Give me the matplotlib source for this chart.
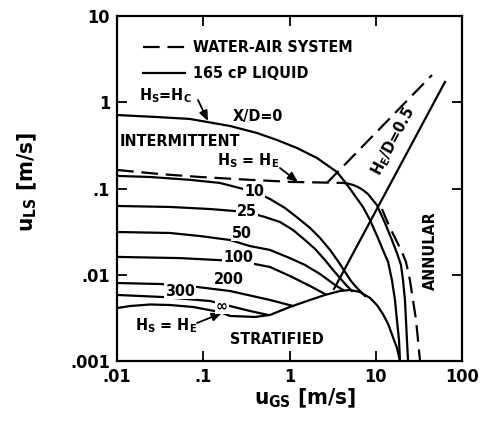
import matplotlib
matplotlib.use("Agg")
import matplotlib.pyplot as plt

# ---- data (u_GS, u_LS in m/s) ----
# 165 cP liquid, X/D = 0  (Hs = Hc)
xd0_ugs = [0.01, 0.0291, 0.0702, 0.204, 0.42, 0.716, 1.22, 2.08, 3.56, 4.40, 5.45,
           6.22, 7.11, 8.58, 10.6, 12.1, 13.9, 15.4, 16.7, 17.6, 18.6, 19.1]
xd0_uls = [0.711, 0.674, 0.640, 0.531, 0.44, 0.365, 0.295, 0.226, 0.155, 0.119,
           0.0887, 0.0736, 0.0611, 0.0431, 0.0267, 0.0194, 0.0141, 0.00869, 0.0051,
           0.003, 0.00175, 0.001]

# 165 cP liquid, finite X/D
xd10_ugs = [0.01, 0.0241, 0.0702, 0.156, 0.398, 0.594, 0.887, 1.25, 1.73, 2.26,
            2.95, 3.65, 4.40, 5.16, 6.06, 7.50]
xd10_uls = [0.140, 0.136, 0.126, 0.116, 0.0911, 0.0755, 0.0594, 0.0455, 0.0349,
            0.0267, 0.0194, 0.0144, 0.0108, 0.00847, 0.00702, 0.00567]
xd25_ugs = [0.01, 0.0411, 0.120, 0.321, 0.520, 0.776, 1.10, 1.51, 1.98, 2.58, 3.19,
            3.85, 4.52, 5.30]
xd25_uls = [0.0627, 0.0611, 0.0578, 0.0534, 0.0467, 0.0409, 0.0330, 0.0253, 0.0199,
            0.0148, 0.0114, 0.00917, 0.00761, 0.00648]
xd50_ugs = [0.01, 0.0411, 0.0917, 0.204, 0.348, 0.594, 1.01, 1.51, 2.26, 3.37, 4.17]
xd50_uls = [0.0313, 0.0305, 0.0281, 0.0253, 0.0215, 0.0194, 0.0156, 0.0130, 0.0102,
            0.00761, 0.00666]
xd100_ugs = [0.01, 0.0537, 0.253, 0.398, 0.594, 1.01, 1.73, 2.58]
xd100_uls = [0.0161, 0.0156, 0.0144, 0.0133, 0.0123, 0.00968, 0.00741, 0.00598]
xd200_ugs = [0.01, 0.0316, 0.0847, 0.204, 0.594, 1.10]
xd200_uls = [0.00802, 0.00781, 0.00722, 0.00648, 0.0051, 0.00434]
xd300_ugs = [0.01, 0.0341, 0.120, 0.204, 0.348, 0.564]
xd300_uls = [0.00583, 0.00552, 0.00496, 0.00434, 0.0038, 0.00342]

# lowest curve: X/D = inf (Hs = He) and stratified boundary
inf_ugs = [0.01, 0.0142, 0.0241, 0.0411, 0.0761, 0.156, 0.204, 0.398, 0.594, 1.01,
           1.73, 2.58, 3.85, 5.02, 6.57, 8.58, 10.3, 12.1, 13.9, 15.8, 17.6, 19.1]
inf_uls = [0.00411, 0.00434, 0.00452, 0.00446, 0.00423, 0.0037, 0.00333, 0.00324,
           0.00342, 0.00423, 0.0051, 0.00583, 0.00648, 0.00666, 0.00631, 0.00538,
           0.00446, 0.00351, 0.00269, 0.0019, 0.00142, 0.001]

# second solid branch leaving the water-air Hs = He line
arc_ugs = [4.17, 4.76, 5.45, 6.22, 7.11, 8.13, 9.05, 10.3, 11.2, 12.8, 15.4, 17.6,
           19.6, 20.7, 21.8, 22.4, 23.0, 23.7]
arc_uls = [0.116, 0.114, 0.110, 0.104, 0.0961, 0.0863, 0.0755, 0.0644, 0.0534,
           0.0398, 0.0253, 0.0179, 0.0130, 0.00869, 0.0051, 0.003, 0.00175, 0.001]

# water-air system (dashed)
wa_he_ugs = [0.01, 0.0316, 0.0917, 0.348, 1.10, 4.40]
wa_he_uls = [0.164, 0.147, 0.136, 0.126, 0.119, 0.116]
wa_arc_ugs = [11.8, 14.3, 17.2, 20.1, 22.4, 24.9, 27.0, 29.3, 30.9, 32.6]
wa_arc_uls = [0.0578, 0.0367, 0.0253, 0.0184, 0.0141, 0.00869, 0.0051, 0.003,
              0.00175, 0.001]

# He/D = 0.5 lines
wa_hed_ugs = [2.72, 44.9]
wa_hed_uls = [0.116, 2.07]
liq_hed_ugs = [3.28, 63.5]
liq_hed_uls = [0.00684, 1.72]

x_ticks = [0.01, 0.1, 1, 10, 100]
x_labels = [".01", ".1", "1", "10", "100"]
y_ticks = [0.001, 0.01, 0.1, 1, 10]
y_labels = [".001", ".01", ".1", "1", "10"]

plt.rcParams["font.family"] = ["DejaVu Sans"]
plt.rcParams["font.stretch"] = "condensed"
plt.rcParams["font.weight"] = "bold"
plt.rcParams["mathtext.default"] = "regular"

LW = 1.6
DASH = (7.5, 3.5)

fig = plt.figure(figsize=(4.84, 4.28), dpi=100)
ax = fig.add_axes([117 / 484, 67 / 428, 345 / 484, 345 / 428])
ax.set_xscale("log")
ax.set_yscale("log")
ax.set_xlim(0.01, 100)
ax.set_ylim(0.001, 10)

solid = [(xd0_ugs, xd0_uls), (xd10_ugs, xd10_uls), (xd25_ugs, xd25_uls),
         (xd50_ugs, xd50_uls), (xd100_ugs, xd100_uls), (xd200_ugs, xd200_uls),
         (xd300_ugs, xd300_uls), (inf_ugs, inf_uls), (arc_ugs, arc_uls),
         (liq_hed_ugs, liq_hed_uls)]
for xs, ys in solid:
    ax.plot(xs, ys, color="black", lw=LW, solid_joinstyle="round")
for xs, ys in [(wa_he_ugs, wa_he_uls), (wa_arc_ugs, wa_arc_uls), (wa_hed_ugs, wa_hed_uls)]:
    ax.plot(xs, ys, color="black", lw=LW, dashes=DASH)

ax.set_xticks(x_ticks)
ax.set_xticklabels(x_labels)
ax.set_yticks(y_ticks)
ax.set_yticklabels(y_labels)
ax.minorticks_off()
ax.tick_params(which="major", direction="in", length=7, width=1.3,
               top=True, right=True, labelsize=13, pad=5)
for s in ax.spines.values():
    s.set_linewidth(1.6)


def P(x, y):
    # reference pixel -> axes fraction
    return ((x - 117) / 345.0, (361 - y) / 345.0)


T = ax.transAxes
fs = 11.5

# legend
for yy, kw, lbl in [(47, dict(dashes=DASH), "WATER-AIR SYSTEM"),
                    (73, {}, "165 cP LIQUID")]:
    x0, y0 = P(143, yy)
    x1, _ = P(185, yy)
    ax.plot([x0, x1], [y0, y0], transform=T, color="black", lw=LW, **kw)
    ax.text(*P(193, yy), lbl, transform=T, ha="left", va="center", fontsize=fs)

ax.text(*P(258, 117), "X/D=0", transform=T, ha="center", va="center", fontsize=fs)
ax.text(*P(165, 96), "H$_S$=H$_C$", transform=T, ha="center", va="center", fontsize=fs)
ax.text(*P(180, 142), "INTERMITTENT", transform=T, ha="center", va="center", fontsize=fs)
ax.text(*P(248, 161), "H$_S$ = H$_E$", transform=T, ha="center", va="center", fontsize=fs)
ax.text(*P(166, 326), "H$_S$ = H$_E$", transform=T, ha="center", va="center", fontsize=fs)
ax.text(*P(277, 339), "STRATIFIED", transform=T, ha="center", va="center", fontsize=fs)
ax.text(*P(430, 251), "ANNULAR", transform=T, ha="center", va="center", fontsize=fs,
        rotation=90)
ax.text(*P(393, 141), "H$_E$/D=0.5", transform=T, ha="center", va="center", fontsize=fs,
        rotation=62)

arrow = dict(arrowstyle="-|>,head_length=0.6,head_width=0.25", color="black", lw=1.3,
             shrinkA=0, shrinkB=0)
for start, tip in [((198, 100), (208, 121)), ((280, 168), (298, 182)),
                   ((197, 323), (222, 313))]:
    ax.annotate("", xy=P(*tip), xytext=P(*start), xycoords=T, textcoords=T,
                arrowprops=arrow)

# curve labels sitting in gaps of the curves
box = dict(fc="white", ec="none", pad=0.6)
for lbl, pos in [("10", (254, 192)), ("25", (247, 211)), ("50", (242, 233)),
                 ("100", (238, 257)), ("200", (229, 280)), ("300", (180, 291)),
                 ("\u221e", (222, 306))]:
    ax.text(*P(*pos), lbl, transform=T, ha="center", va="center", fontsize=fs,
            bbox=box, zorder=5)

fig.text(27 / 484, 1 - 182 / 428, "u$_{LS}$ [m/s]", rotation=90, ha="center",
         va="center", fontsize=16)
fig.text(305 / 484, 1 - 398 / 428, "u$_{GS}$ [m/s]", ha="center", va="center",
         fontsize=16)

fig.savefig("out.png", dpi=100)
